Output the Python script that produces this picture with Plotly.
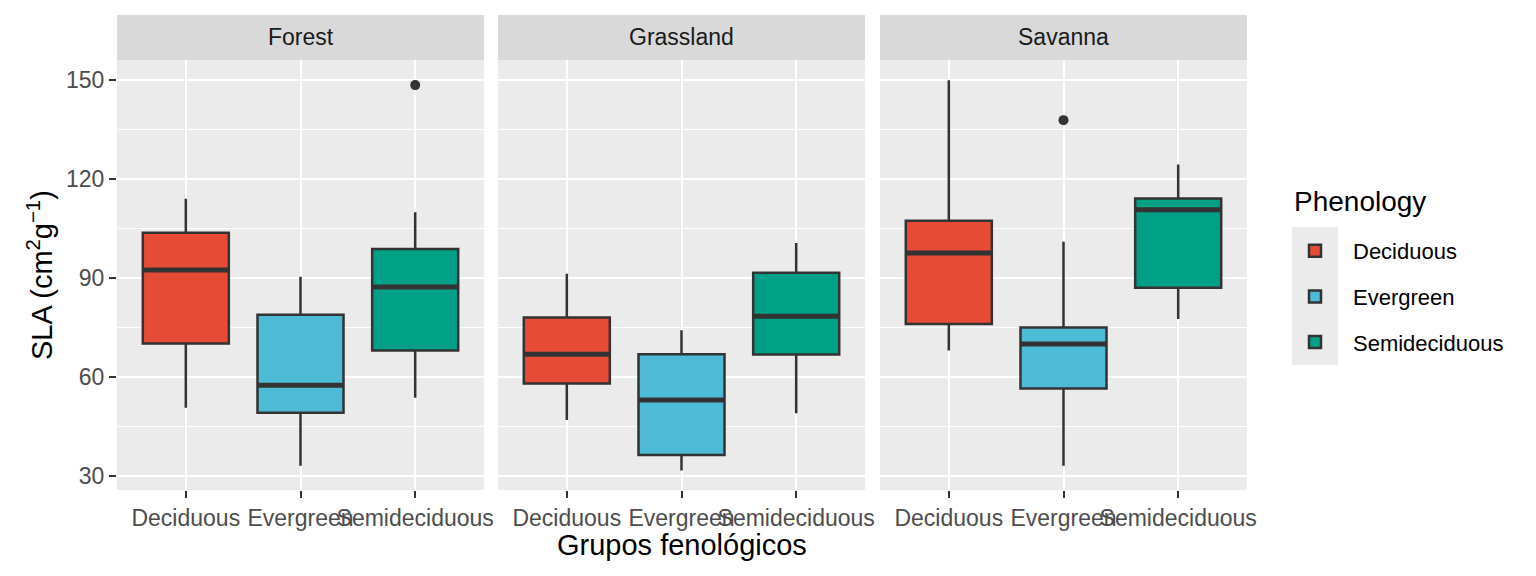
import plotly.graph_objects as go

habitats = ["Forest", "Grassland", "Savanna"]
phenology = ["Deciduous", "Evergreen", "Semideciduous"]
colors = ["#E64B35", "#4DBBD5", "#00A087"]

# rows: habitats (Forest, Grassland, Savanna); columns: phenology groups
lower_whisker = [[50.7, 33.1, 53.7], [47.0, 31.7, 49.0], [68.0, 33.1, 77.5]]
q1 = [[70.1, 49.2, 68.0], [58.0, 36.4, 66.8], [76.0, 56.5, 87.0]]
median = [[92.4, 57.5, 87.2], [66.9, 53.0, 78.4], [97.5, 70.0, 110.6]]
q3 = [[103.6, 78.8, 98.7], [78.0, 66.9, 91.5], [107.3, 75.0, 114.0]]
upper_whisker = [[113.9, 90.3, 109.8], [91.2, 74.1, 100.5], [149.8, 100.9, 124.3]]

outlier_habitat = ["Forest", "Savanna"]
outlier_group = ["Semideciduous", "Evergreen"]
outlier_value = [148.3, 137.7]

y_ticks = [30, 60, 90, 120, 150]

# ---- layout geometry (target screen pixels, corrected for the 8px page margin) ----
OFF = 8
W, H = 1536, 576
L, R, T, B = 117 - OFF, 1247 - OFF, 15 - OFF, 490 - OFF
pw = R - L
ph = B - T
panel_px = [(117, 484), (498, 865), (880, 1247)]
domains = [((a - OFF - L) / pw, (b - OFF - L) / pw) for a, b in panel_px]
strip_h = 45
panel_top = (ph - strip_h) / ph
box_w = 0.75
line_col = "#333333"
font_fam = "Liberation Sans, Arial, sans-serif"


def px_x(p):
    return (p - OFF - L) / pw


def px_y(p):
    return (B - (p - OFF)) / ph


fig = go.Figure()

for h, hab in enumerate(habitats):
    xa = "x" if h == 0 else f"x{h + 1}"
    ya = "y" if h == 0 else f"y{h + 1}"
    for g, grp in enumerate(phenology):
        fig.add_trace(go.Box(
            x=[g], q1=[q1[h][g]], median=[median[h][g]], q3=[q3[h][g]],
            lowerfence=[lower_whisker[h][g]], upperfence=[upper_whisker[h][g]],
            width=box_w, whiskerwidth=0, boxpoints=False,
            fillcolor=colors[g], line=dict(color=line_col, width=2.5),
            name=grp, legendgroup=grp, showlegend=(h == 0),
            xaxis=xa, yaxis=ya, hoverinfo="skip",
        ))
        # thicker median bar (ggplot fatten)
        fig.add_trace(go.Scatter(
            x=[g - box_w / 2, g + box_w / 2], y=[median[h][g], median[h][g]],
            mode="lines", line=dict(color=line_col, width=5),
            showlegend=False, legendgroup=grp, xaxis=xa, yaxis=ya, hoverinfo="skip",
        ))
    ox = [phenology.index(grp) for hh, grp in zip(outlier_habitat, outlier_group) if hh == hab]
    oy = [v for hh, v in zip(outlier_habitat, outlier_value) if hh == hab]
    if ox:
        fig.add_trace(go.Scatter(
            x=ox, y=oy, mode="markers",
            marker=dict(color=line_col, size=10, line=dict(width=0)),
            showlegend=False, xaxis=xa, yaxis=ya, hoverinfo="skip",
        ))

layout = dict(
    width=W, height=H,
    margin=dict(l=L, r=W - R, t=T, b=H - B, pad=0),
    paper_bgcolor="white", plot_bgcolor="#EBEBEB",
    boxmode="overlay",
    font=dict(family=font_fam, color="#000000"),
    showlegend=True,
    legend=dict(
        font=dict(size=22, color="#000000"),
        x=px_x(1277), xanchor="left",
        y=px_y(230), yanchor="top",
        itemwidth=66, tracegroupgap=14,
        bgcolor="rgba(0,0,0,0)",
    ),
)

ylim = [25.8, 155.9]
for h in range(3):
    xs = "xaxis" if h == 0 else f"xaxis{h + 1}"
    ys = "yaxis" if h == 0 else f"yaxis{h + 1}"
    layout[xs] = dict(
        domain=list(domains[h]), range=[-0.6, 2.6],
        tickmode="array", tickvals=[0, 1, 2], ticktext=phenology, tickangle=0,
        showgrid=True, gridcolor="white", gridwidth=2.4, zeroline=False,
        ticks="outside", ticklen=7, tickwidth=2, tickcolor=line_col,
        tickfont=dict(size=23, color="#4D4D4D"),
        anchor="y" if h == 0 else f"y{h + 1}",
        showline=False, fixedrange=True,
    )
    layout[ys] = dict(
        domain=[0, panel_top], range=ylim,
        tickmode="array", tickvals=y_ticks,
        showgrid=True, gridcolor="white", gridwidth=2.4, zeroline=False,
        minor=dict(tickmode="array", tickvals=[45, 75, 105, 135], showgrid=True,
                   gridcolor="white", gridwidth=1.2, ticks=""),
        ticks="outside" if h == 0 else "", ticklen=7, tickwidth=2, tickcolor=line_col,
        showticklabels=(h == 0),
        tickfont=dict(size=23, color="#4D4D4D"),
        anchor="x" if h == 0 else f"x{h + 1}",
        showline=False, fixedrange=True,
    )
    if h > 0:
        layout[ys]["matches"] = "y"

fig.update_layout(**layout)

shapes = []
annotations = []
for h, hab in enumerate(habitats):
    d0, d1 = domains[h]
    shapes.append(dict(type="rect", xref="paper", yref="paper", x0=d0, x1=d1,
                       y0=panel_top, y1=1, fillcolor="#D9D9D9", line=dict(width=0), layer="below"))
    annotations.append(dict(text=hab, xref="paper", yref="paper", x=(d0 + d1) / 2,
                            y=(panel_top + 1) / 2, showarrow=False, xanchor="center", yanchor="middle",
                            font=dict(size=23, color="#1A1A1A")))

# legend key background (ggplot style)
shapes.append(dict(type="rect", xref="paper", yref="paper",
                   x0=px_x(1292), x1=px_x(1338),
                   y0=px_y(365), y1=px_y(227),
                   fillcolor="#EBEBEB", line=dict(width=0), layer="below"))

annotations.append(dict(text="Phenology", xref="paper", yref="paper",
                        x=px_x(1292), y=px_y(202), showarrow=False, xanchor="left", yanchor="middle",
                        font=dict(size=28, color="#000000")))
annotations.append(dict(text="Grupos fenológicos", xref="paper", yref="paper",
                        x=0.5, y=px_y(545), showarrow=False, xanchor="center", yanchor="middle",
                        font=dict(size=29, color="#000000")))
annotations.append(dict(text="SLA (cm<sup>2</sup>g<sup>−1</sup>)", xref="paper", yref="paper",
                        x=px_x(40), y=panel_top / 2, showarrow=False, textangle=-90,
                        xanchor="center", yanchor="middle",
                        font=dict(size=29, color="#000000")))

fig.update_layout(shapes=shapes, annotations=annotations)
fig.write_html("out.html")
